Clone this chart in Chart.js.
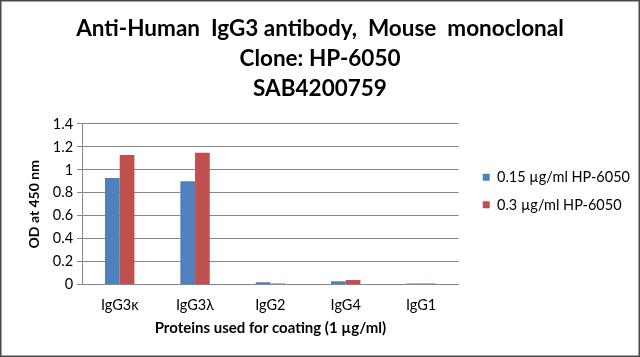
<!DOCTYPE html>
<html>
<head>
<meta charset="utf-8">
<script src="https://cdn.jsdelivr.net/npm/chart.js@4"></script>
<style>
html,body{margin:0;padding:0;background:#fff;}
#wrap{width:640px;height:357px;position:relative;}
</style>
</head>
<body>
<div id="wrap"><canvas id="c" width="640" height="357"></canvas></div>
<script>
const titleLines = ["Anti-Human  IgG3 antibody,  Mouse  monoclonal", "Clone: HP-6050", "SAB4200759"];
const categories = ["IgG3\u03ba", "IgG3\u03bb", "IgG2", "IgG4", "IgG1"];
const seriesLabels = ["0.15 \u00b5g/ml HP-6050", "0.3 \u00b5g/ml HP-6050"];
const series1 = [0.93, 0.90, 0.02, 0.03, 0.01];
const series2 = [1.13, 1.15, 0.01, 0.04, 0.01];
const yTitle = "OD at 450 nm";
const xTitle = "Proteins used for coating (1 \u00b5g/ml)";
const yMin = 0, yMax = 1.4, yStep = 0.2;

const frame = {
  id: 'frame',
  beforeDraw(chart) {
    const ctx = chart.ctx;
    ctx.save();
    ctx.fillStyle = '#fff';
    ctx.fillRect(0, 0, chart.width, chart.height);
    ctx.restore();
  },
  afterDraw(chart) {
    const ctx = chart.ctx;
    ctx.save();
    ctx.strokeStyle = '#4a4a4a';
    ctx.lineWidth = 1.5;
    ctx.strokeRect(0.75, 0.75, chart.width - 1.5, chart.height - 1.5);
    ctx.restore();
  }
};

new Chart(document.getElementById('c'), {
  type: 'bar',
  data: {
    labels: categories,
    datasets: [
      { label: seriesLabels[0], data: series1, backgroundColor: '#4F81BD', borderWidth: 0 },
      { label: seriesLabels[1], data: series2, backgroundColor: '#C0504D', borderWidth: 0 }
    ]
  },
  options: {
    responsive: false,
    animation: false,
    devicePixelRatio: 1,
    layout: { padding: { left: 0, right: 0, top: 0, bottom: 20 } },
    datasets: { bar: { barPercentage: 1.0, categoryPercentage: 0.39 } },
    plugins: {
      title: {
        display: true,
        text: titleLines,
        color: '#000',
        font: { family: 'Lato', size: 22.5, weight: 'bold', lineHeight: 1.3333 },
        padding: { top: 14, bottom: 20 }
      },
      legend: {
        position: 'right',
        align: 'center',
        maxWidth: 220,
        title: { display: true, text: ' ', font: { size: 1 }, padding: 22 },
        labels: {
          color: '#000',
          font: { family: 'Lato', size: 14.5 },
          boxWidth: 7, boxHeight: 7,
          padding: 13
        }
      },
      tooltip: { enabled: false }
    },
    scales: {
      x: {
        grid: { display: false, drawTicks: false },
        border: { display: true, color: '#868686' },
        ticks: { color: '#000', font: { family: 'Lato', size: 14.5 }, padding: 12, maxRotation: 0 },
        title: { display: true, text: xTitle, color: '#000', font: { family: 'Lato', size: 15, weight: 'bold' }, padding: { top: -7, bottom: 0 } }
      },
      y: {
        min: yMin, max: yMax,
        ticks: { stepSize: yStep, color: '#000', font: { family: 'Lato', size: 14.5 }, padding: 4,
          callback: v => String(Math.round(v * 10) / 10) },
        grid: { color: '#868686', tickLength: 5, drawTicks: true },
        border: { display: true, color: '#868686' },
        title: { display: true, text: yTitle, color: '#000', font: { family: 'Lato', size: 14, weight: 'bold' }, padding: { top: 26, bottom: 6 } }
      },
      gap: {
        type: 'linear',
        position: 'right',
        display: true,
        ticks: { display: false },
        grid: { display: false, drawTicks: false },
        border: { display: false },
        afterFit(scale) { scale.width = 11; }
      }
    }
  },
  plugins: [frame]
});
</script>
</body>
</html>
